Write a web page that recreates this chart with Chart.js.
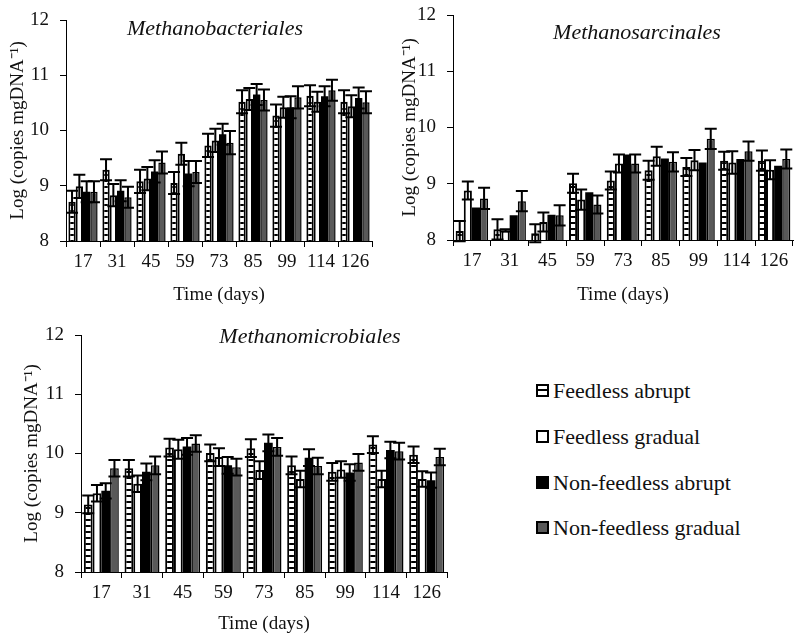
<!DOCTYPE html>
<html>
<head>
<meta charset="utf-8">
<script src="https://cdn.jsdelivr.net/npm/chart.js@4.4.0/dist/chart.umd.min.js"></script>
<style>
  body { margin: 0; background: #fff; width: 795px; height: 641px; position: relative; overflow: hidden; font-family: "Liberation Serif", serif; }
  .box { position: absolute; }
  .ttl { position: absolute; font-style: italic; font-size: 22px; color: #111; white-space: nowrap; transform: translate(-50%, -50%); }
  .leg { position: absolute; left: 536px; font-size: 22px; color: #111; white-space: nowrap; }
  .leg span.sym { display: inline-block; width: 9px; height: 9px; margin-right: 4px; vertical-align: 1px; box-sizing: content-box; }
</style>
</head>
<body>
<div class="box" style="left:0;top:-10px;width:380px;height:320px"><canvas id="c1"></canvas></div>
<div class="box" style="left:395px;top:-10px;width:400px;height:320px"><canvas id="c2"></canvas></div>
<div class="box" style="left:0;top:305px;width:460px;height:336px"><canvas id="c3"></canvas></div>

<div class="ttl" style="left:215px;top:28px">Methanobacteriales</div>
<div class="ttl" style="left:637px;top:32px">Methanosarcinales</div>
<div class="ttl" style="left:310px;top:336px">Methanomicrobiales</div>

<div class="leg" style="top:378px"><span class="sym" style="border:2px solid #000;background:linear-gradient(#fff 0,#fff 3px,#000 3px,#000 5px,#fff 5px)"></span>Feedless abrupt</div>
<div class="leg" style="top:424px"><span class="sym" style="border:2px solid #000;background:#fff"></span>Feedless gradual</div>
<div class="leg" style="top:470px"><span class="sym" style="border:2px solid #000;background:#000"></span>Non-feedless abrupt</div>
<div class="leg" style="top:515px"><span class="sym" style="border:2px solid #000;background:#595959"></span>Non-feedless gradual</div>

<script>
// --- datos ---
const days = ['17', '31', '45', '59', '73', '85', '99', '114', '126'];
const seriesNames = ['Feedless abrupt', 'Feedless gradual', 'Non-feedless abrupt', 'Non-feedless gradual'];
const yTicks = [8, 9, 10, 11, 12];

// Methanobacteriales
const bactFA = [8.71, 9.29, 9.08, 9.05, 9.73, 10.52, 10.27, 10.63, 10.52];
const bactFG = [8.99, 8.83, 9.13, 9.58, 9.82, 10.57, 10.42, 10.52, 10.44];
const bactNA = [8.89, 8.91, 9.26, 9.22, 9.93, 10.65, 10.42, 10.62, 10.59];
const bactNG = [8.89, 8.79, 9.42, 9.25, 9.78, 10.55, 10.60, 10.73, 10.51];
const bactErrFA = [0.20, 0.19, 0.21, 0.20, 0.21, 0.21, 0.20, 0.19, 0.21];
const bactErrFG = [0.21, 0.20, 0.21, 0.20, 0.21, 0.20, 0.19, 0.18, 0.20];
const bactErrNA = [0.19, 0.19, 0.20, 0.23, 0.19, 0.19, 0.20, 0.18, 0.19];
const bactErrNG = [0.19, 0.19, 0.20, 0.20, 0.21, 0.19, 0.20, 0.19, 0.20];

// Methanosarcinales
const sarcFA = [8.16, 8.19, 8.12, 9.01, 9.06, 9.24, 9.30, 9.41, 9.41];
const sarcFG = [8.88, 8.17, 8.32, 8.72, 9.36, 9.49, 9.42, 9.38, 9.25];
const sarcNA = [8.58, 8.44, 8.45, 8.85, 9.52, 9.45, 9.38, 9.44, 9.32];
const sarcNG = [8.74, 8.69, 8.44, 8.63, 9.36, 9.39, 9.80, 9.58, 9.44];
const sarcErrFA = [0.18, 0.18, 0.16, 0.17, 0.16, 0.17, 0.16, 0.16, 0.18];
const sarcErrFG = [0.16, 0.02, 0.17, 0.18, 0.16, 0.17, 0.18, 0.20, 0.17];
const sarcErrNA = [0, 0, 0, 0, 0, 0, 0, 0, 0];
const sarcErrNG = [0.19, 0.18, 0.18, 0.16, 0.16, 0.17, 0.18, 0.17, 0.17];

// Methanomicrobiales
const microFA = [9.14, 9.75, 10.10, 10.01, 10.09, 9.80, 9.69, 10.15, 9.98];
const microFG = [9.33, 9.49, 10.07, 9.94, 9.72, 9.57, 9.73, 9.57, 9.57];
const microNA = [9.37, 9.69, 10.12, 9.80, 10.18, 9.93, 9.68, 10.06, 9.55];
const microNG = [9.75, 9.80, 10.17, 9.77, 10.11, 9.79, 9.85, 10.04, 9.94];
const microErrFA = [0.15, 0.14, 0.15, 0.14, 0.15, 0.15, 0.15, 0.14, 0.14];
const microErrFG = [0.14, 0.14, 0.16, 0.15, 0.15, 0.14, 0.14, 0.14, 0.13];
const microErrNA = [0.13, 0.14, 0.14, 0.14, 0.14, 0.14, 0.14, 0.14, 0.13];
const microErrNG = [0.14, 0.15, 0.14, 0.14, 0.15, 0.14, 0.14, 0.14, 0.14];

// patrón "escalera" para Feedless abrupt
function ladderPattern() {
  const c = document.createElement('canvas');
  c.width = 4; c.height = 6;
  const g = c.getContext('2d');
  g.fillStyle = '#fff'; g.fillRect(0, 0, 4, 6);
  g.fillStyle = '#000'; g.fillRect(0, 4, 4, 2);
  return g.createPattern(c, 'repeat');
}

// barras de error (simétricas, negras)
const errorBars = {
  id: 'errorBars',
  afterDatasetsDraw(chart) {
    const ctx = chart.ctx;
    const y = chart.scales.y;
    ctx.save();
    ctx.strokeStyle = '#000';
    ctx.lineWidth = 2;
    chart.data.datasets.forEach((ds, i) => {
      chart.getDatasetMeta(i).data.forEach((bar, j) => {
        const e = ds.errors[j];
        if (!e) return;
        const v = ds.data[j];
        const yt = y.getPixelForValue(v + e);
        const yb = y.getPixelForValue(v - e);
        ctx.beginPath();
        ctx.moveTo(bar.x, yt); ctx.lineTo(bar.x, yb);
        ctx.moveTo(bar.x - 6, yt); ctx.lineTo(bar.x + 6, yt);
        ctx.moveTo(bar.x - 6, yb); ctx.lineTo(bar.x + 6, yb);
        ctx.stroke();
      });
    });
    ctx.restore();
  }
};

const fontTxt = { family: '"Liberation Serif", serif', size: 19, lineHeight: 1.2 };

function makePanel(id, vals, errs, cfg) {
  const ctx = document.getElementById(id).getContext('2d');
  const styles = [
    { backgroundColor: ladderPattern(), borderColor: '#000', borderWidth: 2 },
    { backgroundColor: '#fff', borderColor: '#000', borderWidth: 2 },
    { backgroundColor: '#000', borderColor: '#000', borderWidth: 0 },
    { backgroundColor: '#595959', borderColor: '#000', borderWidth: 1.5 }
  ];
  new Chart(ctx, {
    type: 'bar',
    data: {
      labels: days,
      datasets: seriesNames.map((n, k) => Object.assign({
        label: n, data: vals[k], errors: errs[k]
      }, styles[k]))
    },
    options: {
      responsive: true,
      maintainAspectRatio: false,
      animation: false,
      categoryPercentage: 0.86,
      barPercentage: 1.0,
      layout: { padding: cfg.padding },
      plugins: { legend: { display: false }, tooltip: { enabled: false } },
      scales: {
        x: {
          afterFit(s) { s.height = cfg.xHeight; },
          grid: { drawOnChartArea: false, tickLength: 6, color: '#000' },
          border: { color: '#000' },
          ticks: { color: '#111', font: fontTxt, autoSkip: false, maxRotation: 0, padding: 4 },
          title: { display: true, text: 'Time (days)', color: '#111', font: fontTxt, padding: { top: 0, bottom: cfg.xTitlePad } }
        },
        y: {
          min: 8, max: 12,
          afterFit(s) { s.width = cfg.yWidth; },
          afterBuildTicks(s) { s.ticks = yTicks.map(v => ({ value: v })); },
          grid: { drawOnChartArea: false, tickLength: 6, color: '#000' },
          border: { color: '#000' },
          ticks: { color: '#111', font: fontTxt, padding: 11 },
          title: { display: true, text: 'Log (copies mgDNA\u207B\u00B9)', color: '#111', font: fontTxt, padding: { top: cfg.yTitlePad, bottom: 0 } }
        }
      }
    },
    plugins: [errorBars]
  });
}

makePanel('c1', [bactFA, bactFG, bactNA, bactNG], [bactErrFA, bactErrFG, bactErrNA, bactErrNG],
  { padding: { top: 30, right: 8, left: 0, bottom: 0 }, xHeight: 69, yWidth: 66, yTitlePad: 7, xTitlePad: 4 });
makePanel('c2', [sarcFA, sarcFG, sarcNA, sarcNG], [sarcErrFA, sarcErrFG, sarcErrNA, sarcErrNG],
  { padding: { top: 25, right: 2, left: 0, bottom: 0 }, xHeight: 70, yWidth: 58, yTitlePad: 4, xTitlePad: 4 });
makePanel('c3', [microFA, microFG, microNA, microNG], [microErrFA, microErrFG, microErrNA, microErrNG],
  { padding: { top: 30, right: 13, left: 0, bottom: 0 }, xHeight: 69, yWidth: 81, yTitlePad: 21, xTitlePad: 6 });
</script>
</body>
</html>
